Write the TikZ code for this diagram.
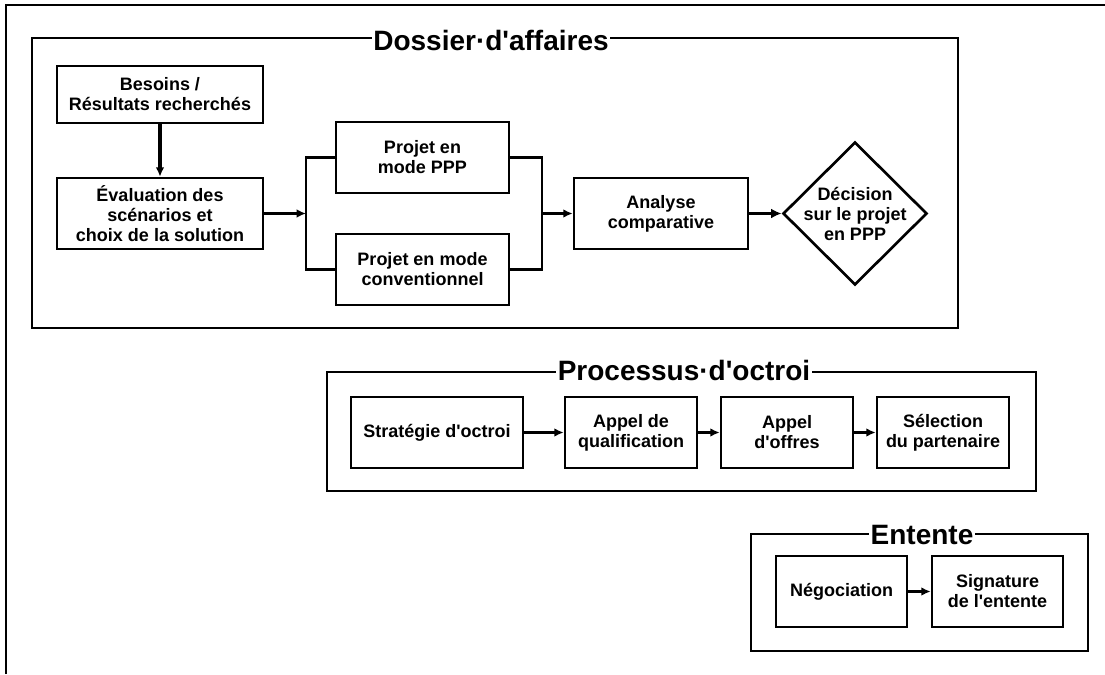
\documentclass[tikz,border=0pt]{standalone}
\usepackage{fontspec}
\setmainfont{Liberation Sans}[Ligatures=TeXOff]
\usetikzlibrary{shapes.geometric, arrows.meta}

\tikzset{
  taskbox/.style={draw, line width=2pt, align=center, inner sep=2pt,
    font=\bfseries\fontsize{13.5}{15}\selectfont, minimum height=53.25pt},
  groupframe/.style={line width=1.8pt},
  frametitle/.style={fill=white, inner sep=1pt,
    font=\bfseries\fontsize{21}{24}\selectfont},
  wire/.style={line width=1.8pt},
  link/.style={line width=1.8pt, -{Latex[length=7pt,width=6.5pt]}},
}

\begin{document}
\begin{tikzpicture}[x=0.75pt, y=-0.75pt]
  \useasboundingbox (0,0) rectangle (1105,674);
  % page border
  \draw[line width=2.2pt] (6,674) -- (6,5) -- (1105,5);

  % Dossier d'affaires
  \draw[groupframe] (32,38) rectangle (958,328);
  \node[frametitle] (dossier) at (491,40) {Dossier·d'affaires};

  \node[taskbox, minimum width=154.5pt, minimum height=42.75pt] (besoins) at (160,94.5) {Besoins /\\Résultats recherchés};
  \node[taskbox, minimum width=154.5pt] (eval) at (160,213.5) {Évaluation des\\scénarios et\\choix de la solution};
  \node[taskbox, minimum width=129.75pt] (ppp) at (422.5,157.5) {Projet en\\mode PPP};
  \node[taskbox, minimum width=129.75pt] (conv) at (422.5,269.5) {Projet en mode\\conventionnel};
  \node[taskbox, minimum width=130.5pt] (analyse) at (661,213.5) {Analyse\\comparative};
  \node[taskbox, shape=diamond, inner sep=-3pt, minimum width=108pt, minimum height=107.25pt] (decision) at (855,213.5) {Décision\\sur le projet\\en PPP};

  \coordinate (forkin) at (306,213.5);
  \coordinate (forkout) at (542,213.5);

  \draw[link, line width=2.3pt] (besoins) -- (eval);
  \draw[link] (eval) -- (forkin);
  \draw[wire] (ppp.west) -| (forkin) |- (conv.west);
  \draw[wire] (ppp.east) -| (forkout) |- (conv.east);
  \draw[link] (forkout) -- (analyse);
  \draw[line width=2.8pt, -{Latex[length=8pt,width=7.5pt]}] (analyse) -- (decision);

  % Processus d'octroi
  \draw[groupframe] (327,372) rectangle (1036,491);
  \node[frametitle] (processus) at (684,370) {Processus·d'octroi};

  \node[taskbox, minimum width=129pt] (strategie) at (437,432.5) {Stratégie d'octroi};
  \node[taskbox, minimum width=99pt] (qualification) at (631,432.5) {Appel de\\qualification};
  \node[taskbox, minimum width=99pt] (offres) at (787,432.5) {Appel\\d'offres};
  \node[taskbox, minimum width=99pt] (selection) at (943,432.5) {Sélection\\du partenaire};

  \foreach \a/\b in {strategie/qualification, qualification/offres, offres/selection}
    \draw[link] (\a) -- (\b);

  % Entente
  \draw[groupframe] (751,534) rectangle (1088,651);
  \node[frametitle] (entente) at (922,534.5) {Entente};

  \node[taskbox, minimum width=98.25pt] (negociation) at (841.5,591.5) {Négociation};
  \node[taskbox, minimum width=98.25pt] (signature) at (997.5,591.5) {Signature\\de l'entente};

  \draw[link] (negociation) -- (signature);

\end{tikzpicture}
\end{document}
